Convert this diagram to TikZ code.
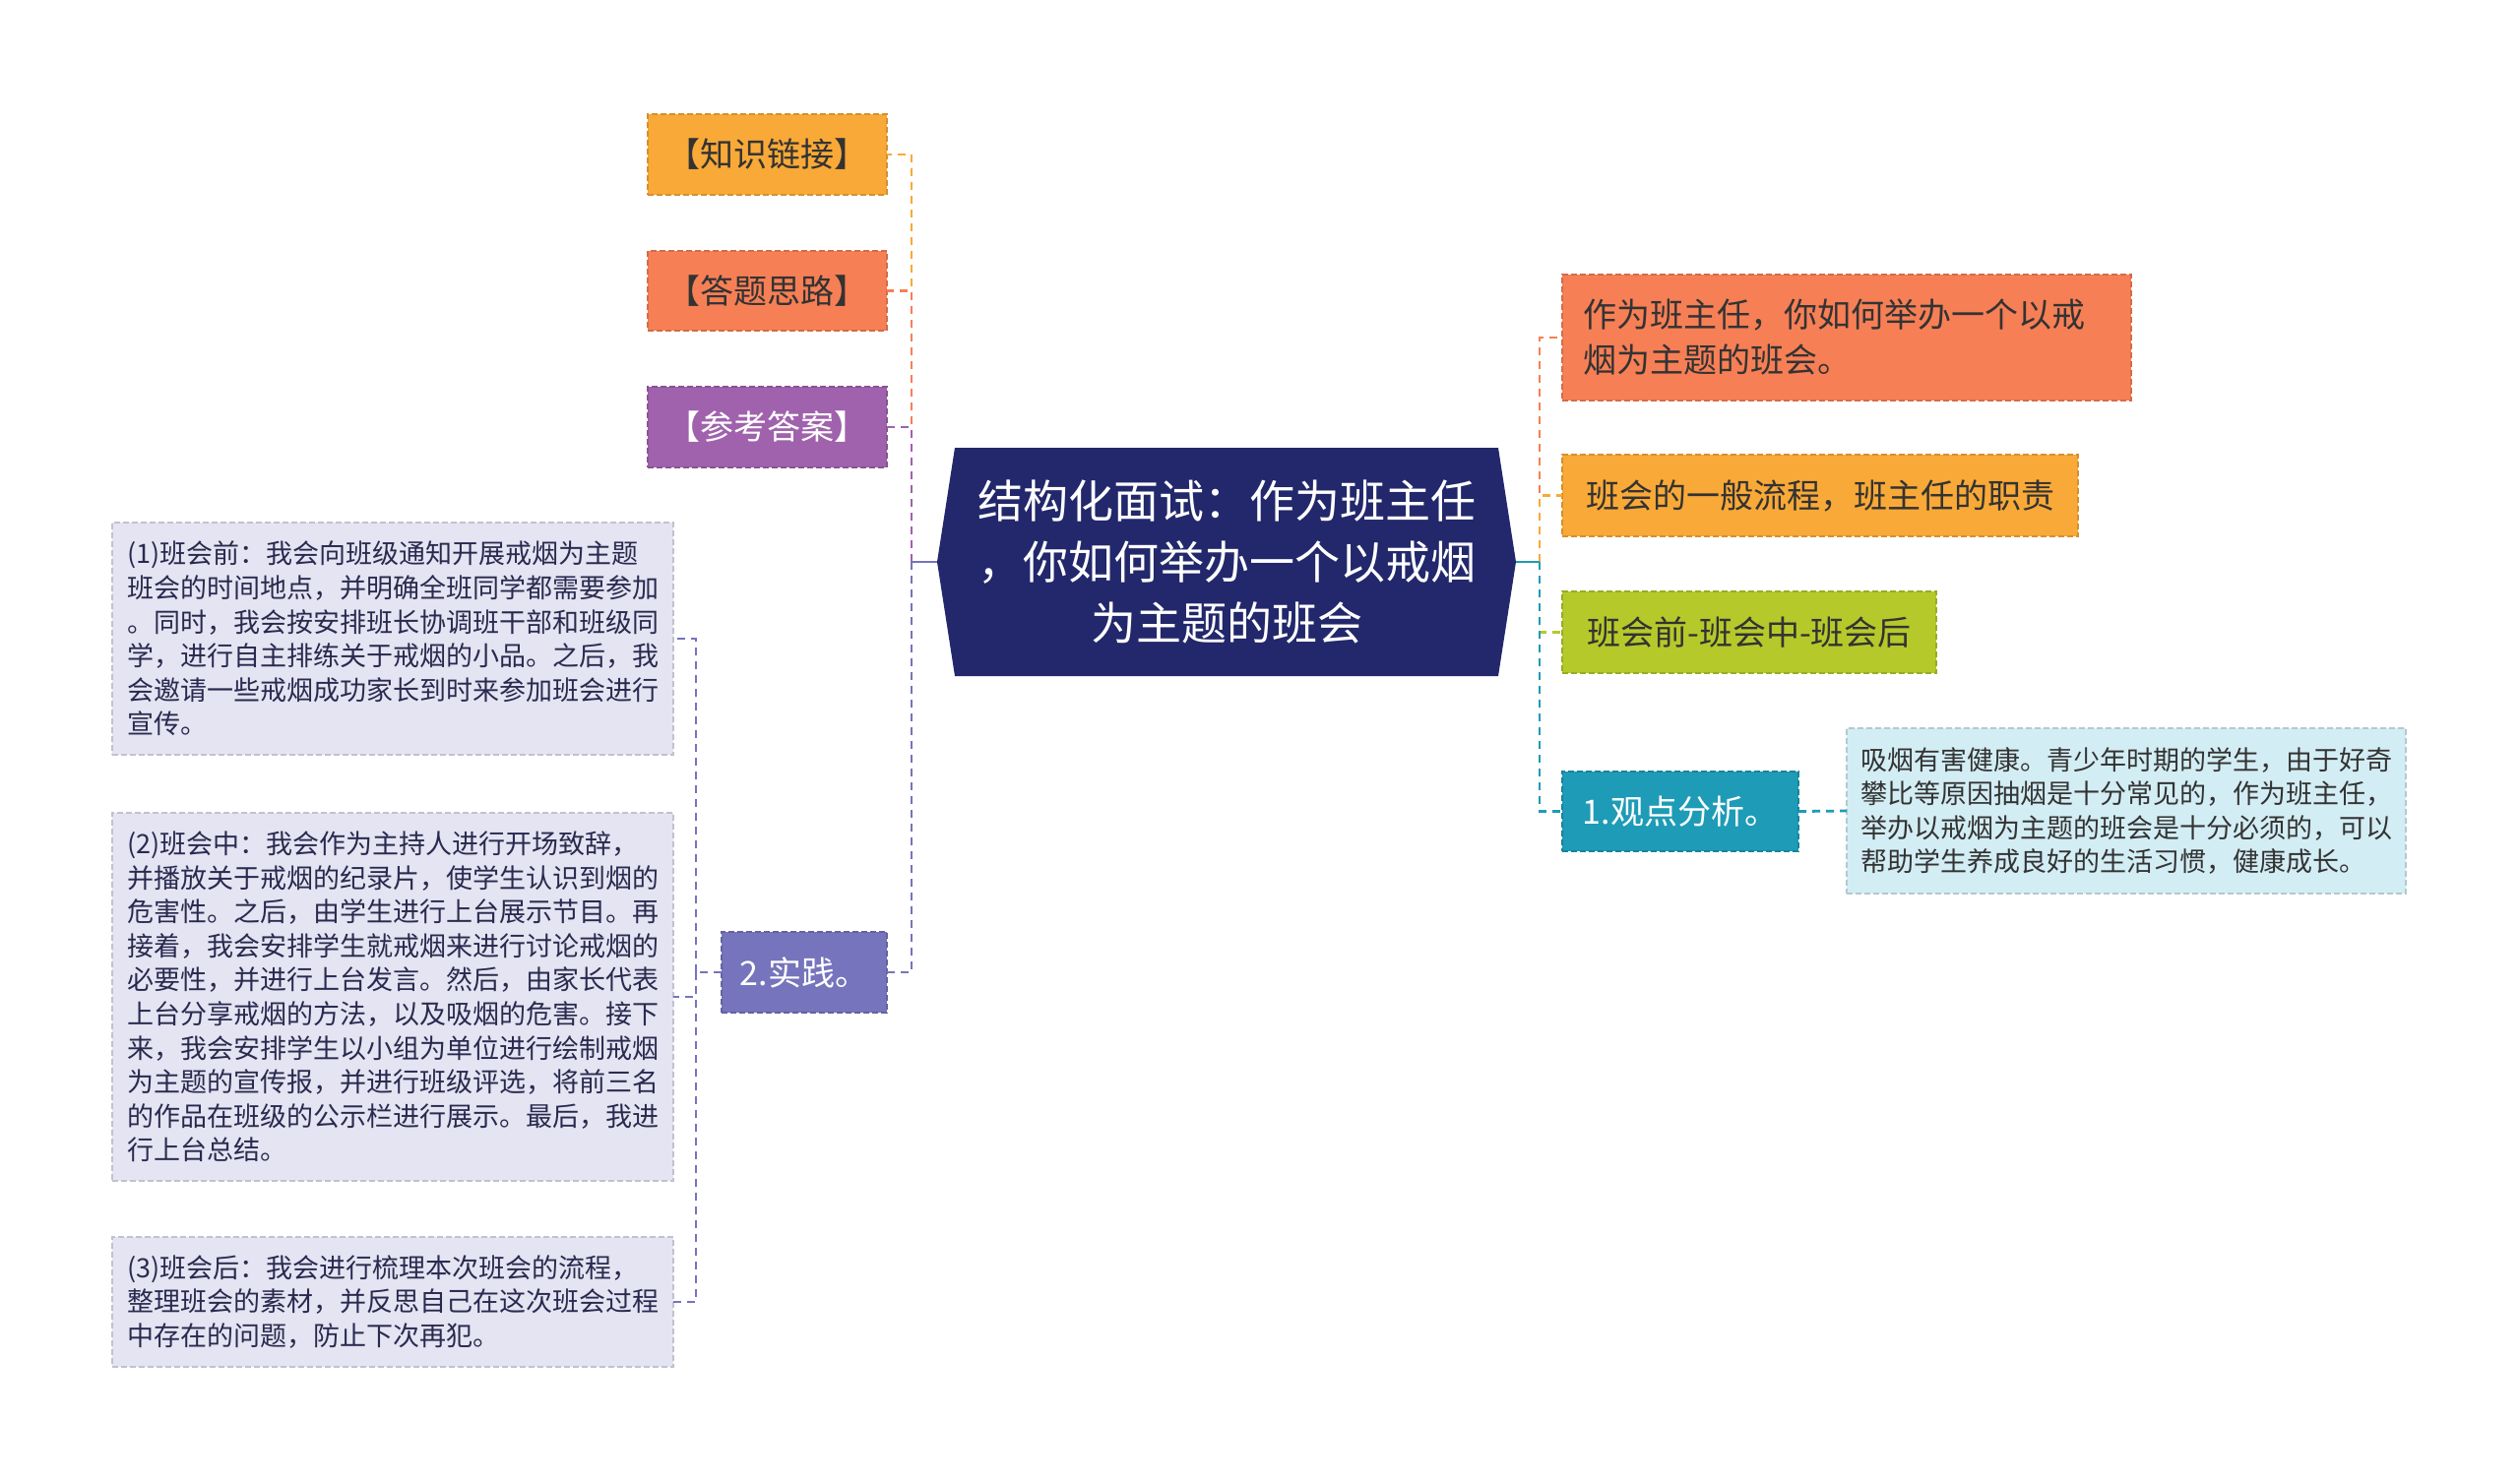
\documentclass[tikz,border=0pt]{standalone}
\usepackage{fontspec}
\setmainfont{Noto Sans CJK SC}
\definecolor{cnavy}{HTML}{22286B}
\definecolor{corange}{HTML}{F9A937}
\definecolor{cred}{HTML}{F77F55}
\definecolor{cpurple}{HTML}{A062AC}
\definecolor{cslate}{HTML}{7574BC}
\definecolor{cgreen}{HTML}{B5C92A}
\definecolor{cteal}{HTML}{1E9BB6}
\definecolor{clav}{HTML}{E4E4F2}
\definecolor{cice}{HTML}{D3EDF4}
\definecolor{ctext}{HTML}{333333}
\definecolor{cnavytext}{HTML}{2A2A50}
\begin{document}
\begin{tikzpicture}[
 x=0.5pt, y=-0.5pt,
 box/.style={rectangle, inner sep=0pt, outer sep=0pt, line width=0.6pt, dash pattern=on 3pt off 1.5pt, font=\fontsize{17pt}{23pt}\selectfont, align=center},
 detail/.style={box, font=\fontsize{13.5pt}{17.3pt}\selectfont, align=left},
 link/.style={line width=1.4pt, dash pattern=on 4pt off 3pt},
 stub/.style={line width=1.4pt},
]
\fill[white] (0,0) rectangle (2560,1506);
\useasboundingbox (0,0) rectangle (2560,1506);

% centre
\fill[cnavy] (970,455) -- (1522,455) -- (1540,571) -- (1522,687) -- (970,687) -- (952,571) -- cycle;
\node[text=white, align=center, inner sep=0pt, font=\fontsize{23pt}{31pt}\selectfont] (center) at (1246,571) {结构化面试：作为班主任\\，你如何举办一个以戒烟\\为主题的班会};
\coordinate (cL) at (952,571);
\coordinate (cR) at (1540,571);
\coordinate (tL) at (926,571);
\coordinate (tR) at (1564,571);
\coordinate (tP) at (707,988);

% left branches
\node[box, fill=corange, draw=corange!85!black, text=ctext, minimum width=121.5pt, minimum height=41pt] (know) at (779.5,157) {【知识链接】};
\node[box, fill=cred, draw=cred!85!black, text=ctext, minimum width=121.5pt, minimum height=40.5pt] (idea) at (779.5,295.5) {【答题思路】};
\node[box, fill=cpurple, draw=cpurple!85!black, text=white, minimum width=121.5pt, minimum height=41pt] (ans) at (779.5,434) {【参考答案】};
\node[box, fill=cslate, draw=cslate!85!black, text=white, minimum width=84pt, minimum height=41pt] (prac) at (817,988) {2.实践。};

\node[detail, fill=clav, draw=clav!85!black, text=cnavytext, minimum width=285pt, minimum height=118pt] (d1) at (399,649) {(1)班会前：我会向班级通知开展戒烟为主题\\班会的时间地点，并明确全班同学都需要参加\\。同时，我会按安排班长协调班干部和班级同\\学，进行自主排练关于戒烟的小品。之后，我\\会邀请一些戒烟成功家长到时来参加班会进行\\宣传。};
\node[detail, fill=clav, draw=clav!85!black, text=cnavytext, minimum width=285pt, minimum height=187pt] (d2) at (399,1013) {(2)班会中：我会作为主持人进行开场致辞，\\并播放关于戒烟的纪录片，使学生认识到烟的\\危害性。之后，由学生进行上台展示节目。再\\接着，我会安排学生就戒烟来进行讨论戒烟的\\必要性，并进行上台发言。然后，由家长代表\\上台分享戒烟的方法，以及吸烟的危害。接下\\来，我会安排学生以小组为单位进行绘制戒烟\\为主题的宣传报，并进行班级评选，将前三名\\的作品在班级的公示栏进行展示。最后，我进\\行上台总结。};
\node[detail, fill=clav, draw=clav!85!black, text=cnavytext, minimum width=285pt, minimum height=66pt] (d3) at (399,1323) {(3)班会后：我会进行梳理本次班会的流程，\\整理班会的素材，并反思自己在这次班会过程\\中存在的问题，防止下次再犯。};

% right branches
\node[box, fill=cred, draw=cred!85!black, text=ctext, align=left, inner xsep=10.5pt, text width=268pt, minimum height=64pt] (r1) at (1876,343) {作为班主任，你如何举办一个以戒\\烟为主题的班会。};
\node[box, fill=corange, draw=corange!85!black, text=ctext, minimum width=262pt, minimum height=41.5pt] (r2) at (1849,503.5) {班会的一般流程，班主任的职责};
\node[box, fill=cgreen, draw=cgreen!85!black, text=ctext, minimum width=190pt, minimum height=41.5pt] (r3) at (1777,642.5) {班会前-班会中-班会后};
\node[box, fill=cteal, draw=cteal!85!black, text=white, minimum width=120pt, minimum height=40.5pt] (r4) at (1707,824.5) {1.观点分析。};
\node[detail, fill=cice, draw=cice!85!black, text=ctext, minimum width=284pt, minimum height=84pt] (rd) at (2160,824) {吸烟有害健康。青少年时期的学生，由于好奇\\攀比等原因抽烟是十分常见的，作为班主任，\\举办以戒烟为主题的班会是十分必须的，可以\\帮助学生养成良好的生活习惯，健康成长。};

% connectors left
\draw[link, corange] (tL) |- (know.east);
\draw[link, cred] (tL) |- (idea.east);
\draw[link, cpurple] (tL) |- (ans.east);
\draw[link, cslate] (tL) |- (prac.east);
\draw[stub, cslate] (cL) -- (tL);

\draw[link, cslate] (prac.west) -- (tP);
\draw[link, cslate] (tP) |- (d1.east);
\draw[link, cslate] (tP) |- (d2.east);
\draw[link, cslate] (tP) |- (d3.east);

% connectors right
\draw[link, cred] (tR) |- (r1.west);
\draw[link, corange] (tR) |- (r2.west);
\draw[link, cgreen] (tR) |- (r3.west);
\draw[link, cteal] (tR) |- (r4.west);
\draw[stub, cteal] (cR) -- (tR);
\draw[link, cteal] (r4.east) -- (rd.west);
\end{tikzpicture}
\end{document}
